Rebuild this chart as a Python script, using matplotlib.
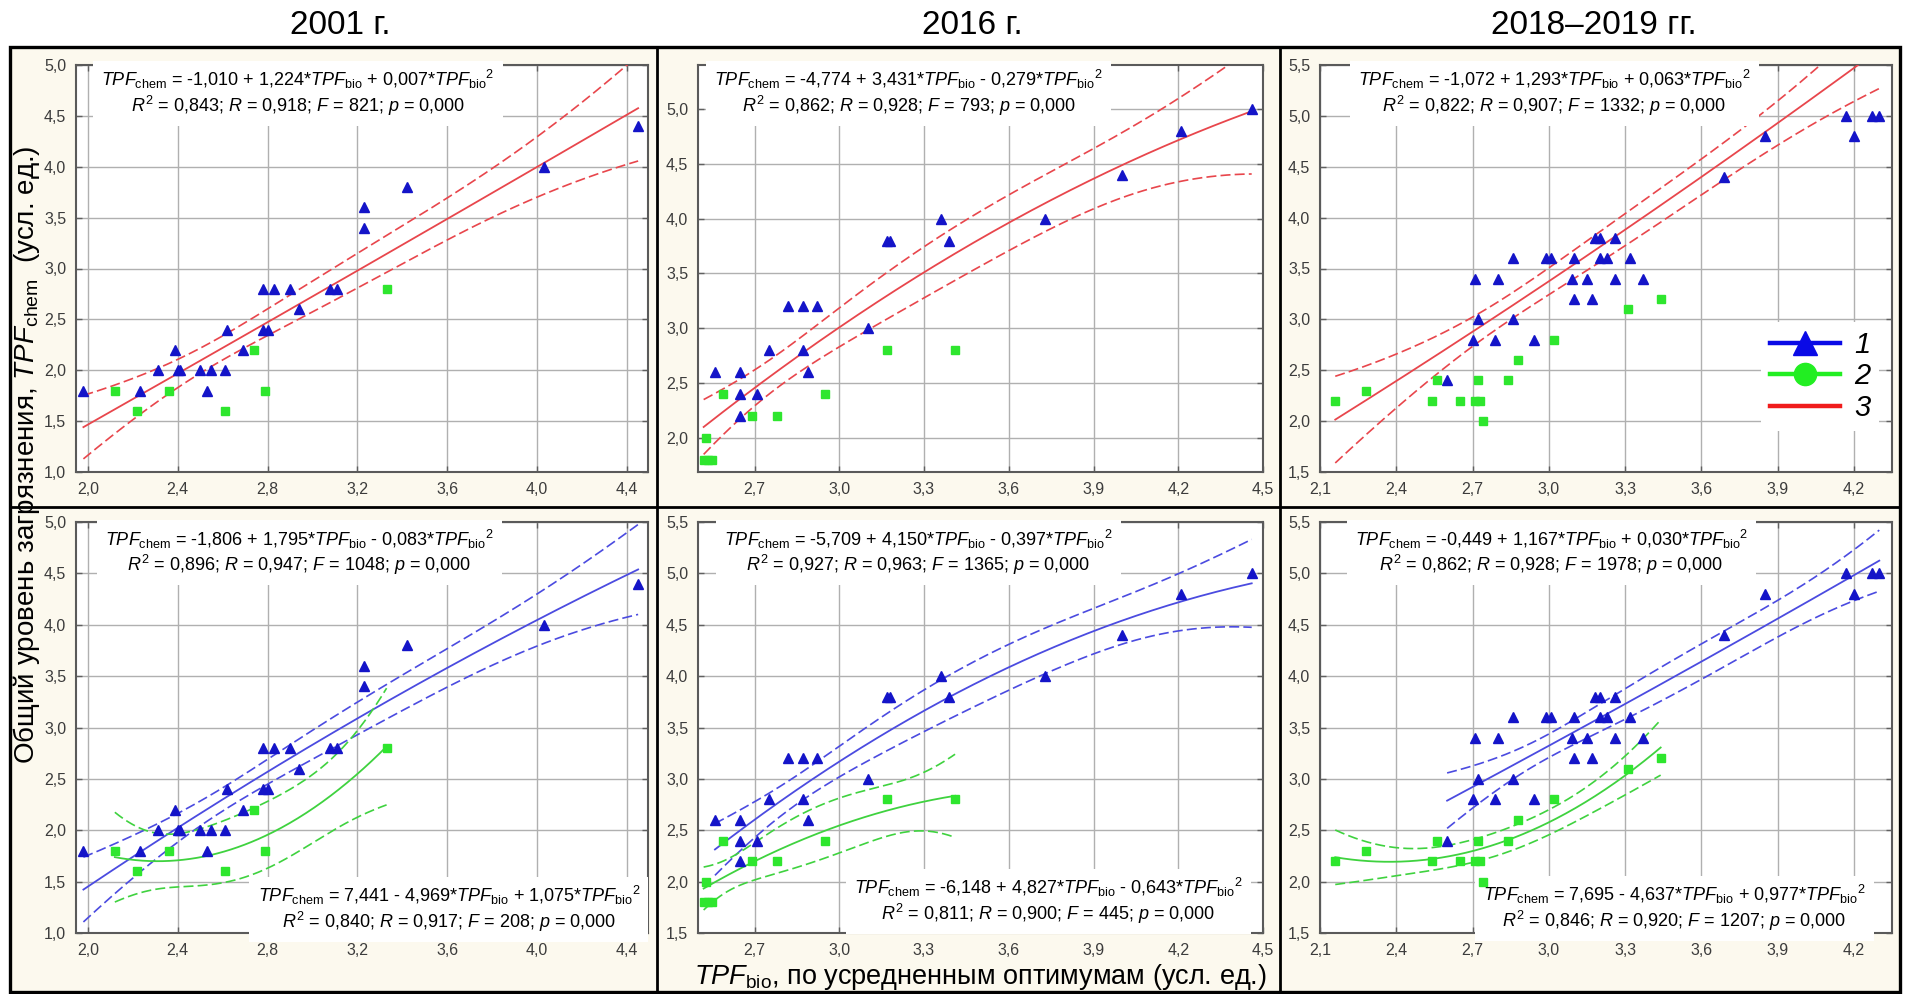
import numpy as np
import matplotlib
matplotlib.use('Agg')
import matplotlib.pyplot as plt
from matplotlib.lines import Line2D
from matplotlib.patches import Rectangle
from matplotlib.ticker import FuncFormatter

plt.rcParams['font.family'] = ['Liberation Sans', 'DejaVu Sans']
plt.rcParams['mathtext.fontset'] = 'custom'
plt.rcParams['mathtext.rm'] = 'Liberation Sans'
plt.rcParams['mathtext.it'] = 'Liberation Sans:italic'
plt.rcParams['mathtext.bf'] = 'Liberation Sans:bold'

# ---- данные: 1 - ТПФ по биоиндикации, 2 - вторая группа точек ----
x01_blue = [1.98, 2.23, 2.31, 2.39, 2.40, 2.41, 2.50, 2.53, 2.55, 2.61, 2.62, 2.69, 2.78,
            2.78, 2.80, 2.83, 2.90, 2.94, 3.08, 3.11, 3.23, 3.23, 3.42, 4.03, 4.45]
y01_blue = [1.8, 1.8, 2.0, 2.2, 2.0, 2.0, 2.0, 1.8, 2.0, 2.0, 2.4, 2.2, 2.8,
            2.4, 2.4, 2.8, 2.8, 2.6, 2.8, 2.8, 3.6, 3.4, 3.8, 4.0, 4.4]
x01_green = [2.12, 2.22, 2.36, 2.61, 2.74, 2.79, 3.33]
y01_green = [1.8, 1.6, 1.8, 1.6, 2.2, 1.8, 2.8]

x16_blue = [2.56, 2.65, 2.65, 2.65, 2.71, 2.75, 2.82, 2.87, 2.92, 2.87, 2.89, 3.10, 3.17,
            3.18, 3.36, 3.39, 3.73, 4.00, 4.21, 4.46]
y16_blue = [2.6, 2.6, 2.4, 2.2, 2.4, 2.8, 3.2, 3.2, 3.2, 2.8, 2.6, 3.0, 3.8,
            3.8, 4.0, 3.8, 4.0, 4.4, 4.8, 5.0]
x16_green = [2.52, 2.535, 2.55, 2.53, 2.59, 2.69, 2.78, 2.95, 3.17, 3.41]
y16_green = [1.8, 1.8, 1.8, 2.0, 2.4, 2.2, 2.2, 2.4, 2.8, 2.8]

x18_blue = [2.60, 2.70, 2.72, 2.71, 2.79, 2.80, 2.86, 2.86, 2.94, 2.99, 3.01, 3.09, 3.10,
            3.10, 3.15, 3.17, 3.18, 3.20, 3.20, 3.23, 3.26, 3.26, 3.32, 3.37, 3.69, 3.85,
            4.17, 4.20, 4.27, 4.30]
y18_blue = [2.4, 2.8, 3.0, 3.4, 2.8, 3.4, 3.6, 3.0, 2.8, 3.6, 3.6, 3.4, 3.2,
            3.6, 3.4, 3.2, 3.8, 3.8, 3.6, 3.6, 3.8, 3.4, 3.6, 3.4, 4.4, 4.8,
            5.0, 4.8, 5.0, 5.0]
x18_green = [2.16, 2.28, 2.54, 2.56, 2.65, 2.71, 2.72, 2.73, 2.74, 2.84, 2.88, 3.02, 3.31, 3.44]
y18_green = [2.2, 2.3, 2.2, 2.4, 2.2, 2.2, 2.4, 2.2, 2.0, 2.4, 2.6, 2.8, 3.1, 3.2]

# коэффициенты квадратичных регрессий (b0, b1, b2) и статистики (R2, R, F, p)
coef01_all, stat01_all = (-1.010, 1.224, 0.007), (0.843, 0.918, 821, 0.000)
coef16_all, stat16_all = (-4.774, 3.431, -0.279), (0.862, 0.928, 793, 0.000)
coef18_all, stat18_all = (-1.072, 1.293, 0.063), (0.822, 0.907, 1332, 0.000)
coef01_blue, stat01_blue = (-1.806, 1.795, -0.083), (0.896, 0.947, 1048, 0.000)
coef01_green, stat01_green = (7.441, -4.969, 1.075), (0.840, 0.917, 208, 0.000)
coef16_blue, stat16_blue = (-5.709, 4.150, -0.397), (0.927, 0.963, 1365, 0.000)
coef16_green, stat16_green = (-6.148, 4.827, -0.643), (0.811, 0.900, 445, 0.000)
coef18_blue, stat18_blue = (-0.449, 1.167, 0.030), (0.862, 0.928, 1978, 0.000)
coef18_green, stat18_green = (7.695, -4.637, 0.977), (0.846, 0.920, 1207, 0.000)

titles = ['2001 г.', '2016 г.', '2018–2019 гг.']
xticks01 = [2.0, 2.4, 2.8, 3.2, 3.6, 4.0, 4.4]
yticks01 = [1.0, 1.5, 2.0, 2.5, 3.0, 3.5, 4.0, 4.5, 5.0]
xticks16 = [2.7, 3.0, 3.3, 3.6, 3.9, 4.2, 4.5]
yticks16_top = [2.0, 2.5, 3.0, 3.5, 4.0, 4.5, 5.0]
yticks16_bot = [1.5, 2.0, 2.5, 3.0, 3.5, 4.0, 4.5, 5.0, 5.5]
xticks18 = [2.1, 2.4, 2.7, 3.0, 3.3, 3.6, 3.9, 4.2]
yticks18 = [1.5, 2.0, 2.5, 3.0, 3.5, 4.0, 4.5, 5.0, 5.5]

W, H = 1908, 994
BLUE_PT, GREEN_PT = '#1414c8', '#2ee62e'
RED_LN, BLUE_LN, GREEN_LN = '#e8464c', '#4b4be0', '#3fd23f'
CREAM = '#fcf9ee'


def num(v):
    return f'{v:.3f}'.replace('.', ',')


def eq_text(coef, stat):
    b0, b1, b2 = coef
    s1 = '+' if b1 >= 0 else '-'
    s2 = '+' if b2 >= 0 else '-'
    line1 = (r'$\mathit{TPF}_{\mathrm{chem}}$ = ' + num(b0) + f' {s1} ' + num(abs(b1)) +
             r'*$\mathit{TPF}_{\mathrm{bio}}$' + f' {s2} ' + num(abs(b2)) +
             r'*${\mathit{TPF}_{\mathrm{bio}}}^{2}$')
    r2, r, f, p = stat
    line2 = (r'$\mathit{R}^{2}$ = ' + num(r2) + r'; $\mathit{R}$ = ' + num(r) +
             r'; $\mathit{F}$ = ' + f'{f}' + r'; $\mathit{p}$ = ' + num(p))
    return line1 + '\n' + line2


def t975(df):
    # приближение квантиля Стьюдента (0.975) через разложение Корниша-Фишера
    z = 1.959964
    return (z + (z ** 3 + z) / (4 * df) +
            (5 * z ** 5 + 16 * z ** 3 + 3 * z) / (96 * df ** 2))


def conf_band(x, y, coef, xs):
    # 95% доверительная полоса для квадратичной регрессии
    x = np.asarray(x, float)
    y = np.asarray(y, float)
    X = np.vander(x, 3, increasing=True)
    beta = np.linalg.lstsq(X, y, rcond=None)[0]
    resid = y - X @ beta
    df = len(x) - 3
    s2 = resid @ resid / df
    cov = s2 * np.linalg.inv(X.T @ X)
    Xs = np.vander(xs, 3, increasing=True)
    half = t975(df) * np.sqrt(np.einsum('ij,jk,ik->i', Xs, cov, Xs))
    fit = Xs @ np.asarray(coef)
    return fit, fit - half, fit + half


def draw_fit(ax, x, y, coef, color):
    xs = np.linspace(min(x), max(x), 200)
    fit, lo, hi = conf_band(x, y, coef, xs)
    ax.plot(xs, fit, color=color, lw=1.3, zorder=3)
    ax.plot(xs, lo, color=color, lw=1.2, dashes=(6, 2.5), zorder=3)
    ax.plot(xs, hi, color=color, lw=1.2, dashes=(6, 2.5), zorder=3)


def comma(v, pos):
    return f'{v:.1f}'.replace('.', ',')


def setup(ax, xlim, ylim, xt, yt):
    ax.set_xlim(*xlim)
    ax.set_ylim(*ylim)
    ax.set_xticks(xt)
    ax.set_yticks(yt)
    ax.xaxis.set_major_formatter(FuncFormatter(comma))
    ax.yaxis.set_major_formatter(FuncFormatter(comma))
    ax.grid(True, color='#b0b0b0', lw=1.0)
    ax.set_axisbelow(True)
    ax.tick_params(direction='in', length=4, width=1, color='#606060',
                   top=True, right=True, labelsize=11.5, labelcolor='#3c3c3c', pad=7)
    for lab in ax.get_xticklabels() + ax.get_yticklabels():
        lab.set_family(['Liberation Sans Narrow', 'Liberation Sans'])
    for sp in ax.spines.values():
        sp.set_color('#5a5a5a')
        sp.set_linewidth(1.5)


def points(ax, xb, yb, xg, yg):
    ax.plot(xb, yb, ls='none', marker='^', ms=7, color=BLUE_PT, mec=BLUE_PT, zorder=5)
    ax.plot(xg, yg, ls='none', marker='s', ms=6, color=GREEN_PT, mec=GREEN_PT, zorder=5)


def equation(ax, xf, yf, text):
    ax.text(xf, yf, text, transform=ax.transAxes, ha='center', va='center',
            fontsize=13, linespacing=1.15, zorder=4,
            bbox=dict(facecolor='white', edgecolor='none', boxstyle='square,pad=0.45'))


fig = plt.figure(figsize=(W / 100, H / 100), dpi=100)

# кремовый фон и рамки панелей
fig.add_artist(Rectangle((10 / W, 1 - 992 / H), 1890 / W, 945 / H, transform=fig.transFigure,
                         facecolor=CREAM, edgecolor='none', zorder=-5))
fig.add_artist(Rectangle((10 / W, 1 - 992 / H), 1890 / W, 945 / H, transform=fig.transFigure,
                         facecolor='none', edgecolor='black', lw=2.4, zorder=6))
for xc in (657, 1280):
    fig.add_artist(Line2D([xc / W, xc / W], [1 - 992 / H, 1 - 47 / H], color='black', lw=2,
                          transform=fig.transFigure, zorder=6))
fig.add_artist(Line2D([10 / W, 1900 / W], [1 - 507 / H, 1 - 507 / H], color='black', lw=2,
                      transform=fig.transFigure, zorder=6))

# оси: (лево, право) и (верх, низ) в пикселях
cols = [(76, 648), (698, 1263), (1320, 1892)]
rows = [(65, 472), (522, 933)]


def make_ax(c, r):
    (x0, x1), (y0, y1) = cols[c], rows[r]
    return fig.add_axes([x0 / W, 1 - y1 / H, (x1 - x0) / W, (y1 - y0) / H])


xlims = [(1.947, 4.494), (2.5, 4.5), (2.1, 4.35)]
ylims_top = [(1.0, 5.0), (1.69, 5.40), (1.5, 5.5)]
ylims_bot = [(1.0, 5.0), (1.5, 5.5), (1.5, 5.5)]
xticks = [xticks01, xticks16, xticks18]
yticks_top = [yticks01, yticks16_top, yticks18]
yticks_bot = [yticks01, yticks16_bot, yticks18]

data = [(x01_blue, y01_blue, x01_green, y01_green),
        (x16_blue, y16_blue, x16_green, y16_green),
        (x18_blue, y18_blue, x18_green, y18_green)]
coef_all = [(coef01_all, stat01_all), (coef16_all, stat16_all), (coef18_all, stat18_all)]
coef_blue = [(coef01_blue, stat01_blue), (coef16_blue, stat16_blue), (coef18_blue, stat18_blue)]
coef_green = [(coef01_green, stat01_green), (coef16_green, stat16_green), (coef18_green, stat18_green)]

eq_top_x = [0.388, 0.373, 0.41]
eq_bot_top_x = [0.39, 0.39, 0.405]
eq_bot_x = [0.652, 0.62, 0.62]
eq_bot_y = [0.058, 0.078, 0.06]

for c in range(3):
    xb, yb, xg, yg = data[c]

    # верхний ряд: общая регрессия
    ax = make_ax(c, 0)
    setup(ax, xlims[c], ylims_top[c], xticks[c], yticks_top[c])
    draw_fit(ax, xb + xg, yb + yg, coef_all[c][0], RED_LN)
    points(ax, xb, yb, xg, yg)
    equation(ax, eq_top_x[c], 0.932, eq_text(*coef_all[c]))
    if c == 2:
        handles = [Line2D([], [], color='#0a0ae6', lw=3.2, marker='^', ms=17),
                   Line2D([], [], color='#22ee22', lw=3.2, marker='o', ms=16),
                   Line2D([], [], color='#f01c1c', lw=3.2)]
        ax.legend(handles, ['1', '2', '3'], loc='upper left',
                  bbox_to_anchor=(1761 / W, 1 - 322 / H), bbox_transform=fig.transFigure,
                  prop=dict(style='italic', size=21), frameon=True, fancybox=False,
                  facecolor='white', edgecolor='none', framealpha=1, handlelength=2.4,
                  handletextpad=0.5, labelspacing=0.12, borderpad=0.3, borderaxespad=0)

    # нижний ряд: раздельные регрессии
    ax = make_ax(c, 1)
    setup(ax, xlims[c], ylims_bot[c], xticks[c], yticks_bot[c])
    draw_fit(ax, xb, yb, coef_blue[c][0], BLUE_LN)
    draw_fit(ax, xg, yg, coef_green[c][0], GREEN_LN)
    points(ax, xb, yb, xg, yg)
    equation(ax, eq_bot_top_x[c], 0.926, eq_text(*coef_blue[c]))
    equation(ax, eq_bot_x[c], eq_bot_y[c], eq_text(*coef_green[c]))

title_x = [340, 972, 1594]
for t, xc in zip(titles, title_x):
    fig.text(xc / W, 1 - 25 / H, t, ha='center', va='center', fontsize=24)

fig.text(980 / W, 1 - 977 / H, r'$\mathit{TPF}_{\mathrm{bio}}$, по усредненным оптимумам (усл. ед.)',
         ha='center', va='center', fontsize=19.5, zorder=7)
fig.text(27 / W, 1 - 455 / H, r'Общий уровень загрязнения, $\mathit{TPF}_{\mathrm{chem}}$  (усл. ед.)',
         ha='center', va='center', rotation=90, fontsize=20, zorder=7)

fig.savefig('out.png', dpi=100)
